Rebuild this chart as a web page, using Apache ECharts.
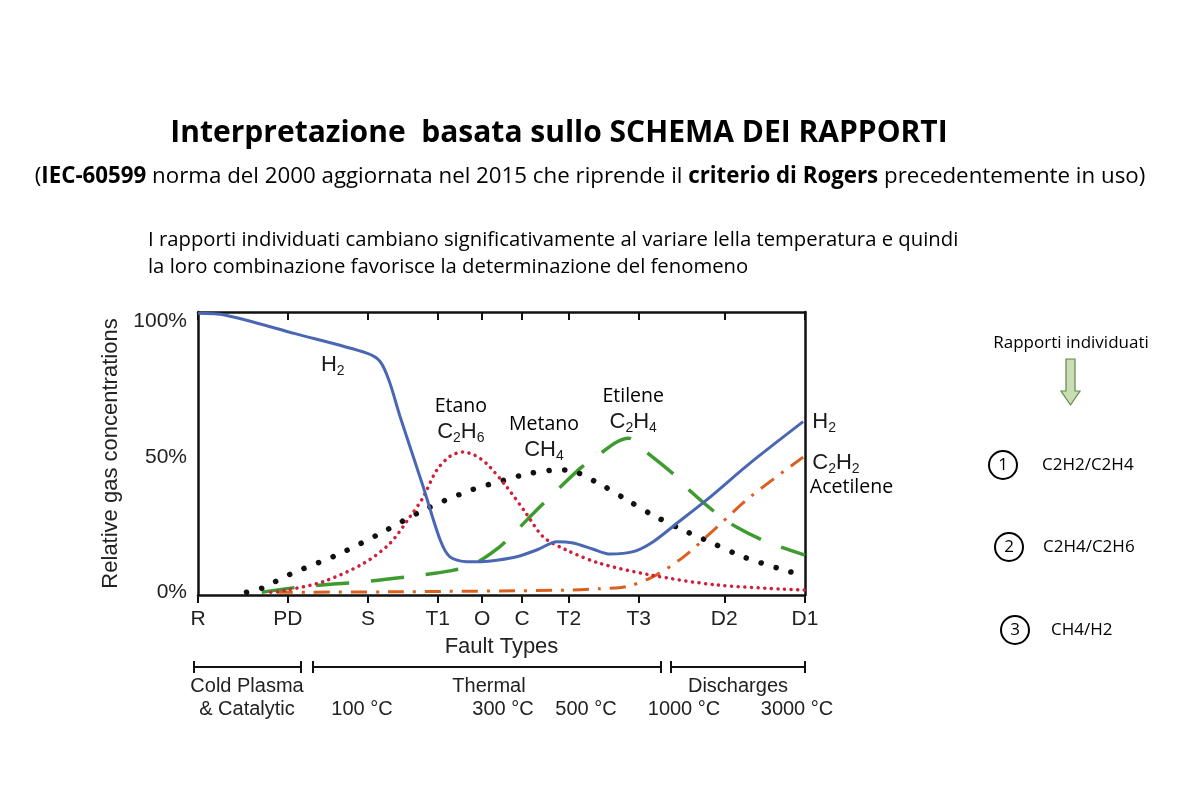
<!DOCTYPE html>
<html><head><meta charset="utf-8">
<script src="https://cdn.jsdelivr.net/npm/echarts@6/dist/echarts.min.js"></script>
<style>html,body{margin:0;padding:0;background:#fff}#c{width:1200px;height:800px}</style>
</head><body><div id="c"></div>
<script>
// ---- data ----
const faultTypes = ['R','PD','S','T1','O','C','T2','T3','D2','D1'];
const faultPos   = [0, 14.8, 28.0, 39.5, 46.8, 53.4, 61.1, 72.6, 86.7, 100];
const yTickValues = [0, 50, 100];

const h2 = [[0,103],[4.4,102.4],[16,95.5],[27.8,88.3],[30,85.2],[31.5,78],[33.3,64.8],[37.1,39],[39.9,19.3],[41.5,13.1],[44.3,11.3],[46.7,11.3],[49.5,11.9],[52.5,13.1],[56,15.8],[59.1,18.7],[61.8,18.2],[65,16],[67.9,14.1],[71.7,15.0],[75,18.7],[78.9,25.5],[83.8,34.1],[90.9,47.6],[99.7,63.0]];
const c2h6 = [[12,0],[14.6,0.8],[20.6,3.9],[27.3,10.7],[31.6,18],[34.9,27.8],[37.1,35.1],[39.3,45],[41.5,50.2],[43.6,51.8],[45.6,50.6],[47.6,47.4],[50.9,38.8],[54.1,29],[56.9,20.4],[60.7,15.6],[66.2,10.7],[74.5,6.4],[85.5,2.7],[100,0.8]];
const ch4 = [[8,0],[10.5,1.5],[15.2,6.7],[22.8,13.7],[30,21.7],[37.1,30.3],[44.8,37.6],[50.3,41.3],[54,43.6],[58,45],[60.7,45.2],[65.6,40.7],[70.3,34.6],[75,28.4],[80,22.9],[84.9,18],[89.8,13.1],[97.5,7.6],[100,6.4]];
const c2h4 = [[10.5,0],[17.3,2.1],[27.3,3.9],[35.5,6],[41.5,7.9],[45.1,10],[49.7,16.8],[52.5,22.9],[56.3,31.5],[59.1,37.6],[63.2,46.2],[66.2,51.1],[69,55.5],[70.9,56.9],[73.9,51.7],[78.6,43.1],[81,37.6],[85.5,29],[88.7,24.1],[93.7,18.6],[100,13.7]];
const c2h2 = [[13,0],[33.3,0.2],[60.7,0.8],[66,1.3],[70.6,2.1],[75,5.8],[80,13.1],[85.5,24.1],[90.9,35.1],[99.7,49.9]];

// annotation anchors (data coords) and their texts
const annCenter = [
  [22.2, 83.9, '{f|H}{s|2}'],
  [43.3, 68.6, '{c|Etano}'],
  [43.3, 59.2, '{f|C}{s|2}{f|H}{s|6}'],
  [57.0, 62.0, '{c|Metano}'],
  [57.0, 52.5, '{f|CH}{s|4}'],
  [71.7, 72.4, '{c|Etilene}'],
  [71.7, 62.9, '{f|C}{s|2}{f|H}{s|4}']
];
const annRight = [
  [101.2, 62.9, '{f|H}{s|2}'],
  [101.2, 47.7, '{f|C}{s|2}{f|H}{s|2}'],
  [100.8, 38.9, '{c|Acetilene}']
];

const ARIAL = '"Liberation Sans", Arial, sans-serif';
const CAL = '"Open Sans", sans-serif';

const richStyles = {
  f: {fontFamily: ARIAL, fontSize: 22, color: '#1a1a1a', lineHeight: 26},
  s: {fontFamily: ARIAL, fontSize: 14, color: '#1a1a1a', lineHeight: 14, verticalAlign: 'bottom'},
  c: {fontFamily: CAL, fontSize: 19.5, color: '#000', lineHeight: 26}
};

const chart = echarts.init(document.getElementById('c'));

function lineSeries(name, data, color, width, type, cap) {
  return {
    name, type: 'line', data, showSymbol: false, smooth: 0.3, silent: true,
    lineStyle: {color, width, type, cap: cap || 'butt'}
  };
}

const txt = (x, y, text, font, extra) => Object.assign({
  type: 'text', x, y, silent: true,
  style: Object.assign({text, font, fill: '#111', align: 'center', verticalAlign: 'middle'}, extra || {})
});

const brackets = [[194, 301], [313, 661], [671, 805]];
const bracketY = 667;
const bracketGraphics = [];
brackets.forEach(([a, b]) => {
  bracketGraphics.push({type: 'line', shape: {x1: a, y1: bracketY, x2: b, y2: bracketY}, style: {stroke: '#111', lineWidth: 2}});
  bracketGraphics.push({type: 'line', shape: {x1: a, y1: bracketY - 6, x2: a, y2: bracketY + 6}, style: {stroke: '#111', lineWidth: 2}});
  bracketGraphics.push({type: 'line', shape: {x1: b, y1: bracketY - 6, x2: b, y2: bracketY + 6}, style: {stroke: '#111', lineWidth: 2}});
});

const bottomTexts = [
  [247, 686, 'Cold Plasma'], [247, 709, '& Catalytic'], [489, 686, 'Thermal'], [738, 686, 'Discharges'],
  [362, 709, '100 °C'], [503, 709, '300 °C'], [586, 709, '500 °C'], [684, 709, '1000 °C'], [797, 709, '3000 °C']
];

const ratios = [
  [1003, 465, '1', 1042, 'C2H2/C2H4'],
  [1009, 547, '2', 1043, 'C2H4/C2H6'],
  [1015, 630, '3', 1051, 'CH4/H2']
];

const graphics = [
  txt(559, 133, 'Interpretazione  basata sullo SCHEMA DEI RAPPORTI', 'bold 30px ' + CAL, {fill: '#000'}),
  {type: 'text', x: 590, y: 177, silent: true, style: {
    text: '{n|(}{b|IEC-60599}{n| norma del 2000 aggiornata nel 2015 che riprende il }{b|criterio di Rogers}{n| precedentemente in uso)}',
    align: 'center', verticalAlign: 'middle',
    rich: {
      n: {fontFamily: CAL, fontSize: 22.3, fill: '#000', color: '#000'},
      b: {fontFamily: CAL, fontSize: 22.3, fontWeight: 'bold', fill: '#000', color: '#000'}
    }
  }},
  txt(148, 240, 'I rapporti individuati cambiano significativamente al variare lella temperatura e quindi', '20.3px ' + CAL, {align: 'left', fill: '#000'}),
  txt(148, 267, 'la loro combinazione favorisce la determinazione del fenomeno', '20.3px ' + CAL, {align: 'left', fill: '#000'}),
  txt(1071, 343, 'Rapporti individuati', '17px ' + CAL, {fill: '#000'}),
  {type: 'polygon', silent: true, shape: {points: [[1066,359],[1075,359],[1075,391],[1080,391],[1070.5,405],[1061,391],[1066,391]]},
    style: {fill: '#c9dcb4', stroke: '#5f8a45', lineWidth: 1.2}},
  ...bracketGraphics,
  ...bottomTexts.map(([x, y, t]) => txt(x, y, t, '20px ' + ARIAL, {fill: '#222'}))
];
ratios.forEach(([cx, cy, n, tx, t]) => {
  graphics.push({type: 'circle', silent: true, shape: {cx, cy, r: 14}, style: {fill: '#fff', stroke: '#000', lineWidth: 2}});
  graphics.push(txt(cx, cy, n, '17px ' + CAL, {fill: '#000'}));
  graphics.push(txt(tx, cy, t, '17px ' + CAL, {align: 'left', fill: '#000'}));
});

const annLabel = (align) => ({
  show: true, position: 'inside', align, verticalAlign: 'middle', color: '#000',
  textBorderWidth: 0, formatter: p => p.data[2], rich: richStyles
});

const option = {
  backgroundColor: '#fff',
  animation: false,
  grid: {left: 198, right: 395, top: 312, bottom: 205},
  xAxis: [
    {
      type: 'value', min: 0, max: 100, position: 'bottom',
      axisLine: {show: true, onZero: false, lineStyle: {color: '#111', width: 2.5}},
      axisTick: {show: true, customValues: faultPos, length: 8, lineStyle: {color: '#111', width: 2}},
      axisLabel: {customValues: faultPos, margin: 14, fontFamily: ARIAL, fontSize: 21, color: '#222',
        formatter: v => faultTypes[faultPos.indexOf(v)] || ''},
      splitLine: {show: false},
      name: 'Fault Types', nameLocation: 'middle', nameGap: 41,
      nameTextStyle: {fontFamily: ARIAL, fontSize: 22, color: '#222'}
    },
    {
      type: 'value', min: 0, max: 100, position: 'top',
      axisLine: {show: true, onZero: false, lineStyle: {color: '#111', width: 2.5}},
      axisTick: {show: true, inside: true, customValues: faultPos, length: 8, lineStyle: {color: '#111', width: 2}},
      axisLabel: {show: false}, splitLine: {show: false}
    }
  ],
  yAxis: [
    {
      type: 'value', min: -1, max: 103.5, position: 'left',
      axisLine: {show: true, onZero: false, lineStyle: {color: '#111', width: 2.5}},
      axisTick: {show: false},
      axisLabel: {customValues: yTickValues, margin: 11, fontFamily: ARIAL, fontSize: 21, color: '#222',
        formatter: v => v + '%'},
      splitLine: {show: false},
      name: 'Relative gas concentrations', nameLocation: 'middle', nameGap: 75,
      nameTextStyle: {fontFamily: ARIAL, fontSize: 22, color: '#222'}
    },
    {
      type: 'value', min: -1, max: 103.5, position: 'right',
      axisLine: {show: true, onZero: false, lineStyle: {color: '#111', width: 2.5}},
      axisTick: {show: false}, axisLabel: {show: false}, splitLine: {show: false}
    }
  ],
  series: [
    lineSeries('C2H2', c2h2, '#d9601e', 3, [16, 9, 3, 9]),
    lineSeries('C2H4', c2h4, '#3e9b2f', 3.5, [33, 22]),
    lineSeries('CH4', ch4, '#111111', 5.5, [0.1, 15.5], 'round'),
    lineSeries('C2H6', c2h6, '#cf1f3a', 3.5, [0.1, 6.5], 'round'),
    lineSeries('H2', h2, '#4a67b3', 3),
    {
      type: 'scatter', silent: true, symbolSize: 0, clip: false, z: 10,
      itemStyle: {color: '#000', opacity: 1},
      data: annCenter, label: annLabel('center')
    },
    {
      type: 'scatter', silent: true, symbolSize: 0, clip: false, z: 10,
      itemStyle: {color: '#000', opacity: 1},
      data: annRight, label: annLabel('left')
    }
  ],
  graphic: graphics
};
chart.setOption(option);
</script>
</body></html>
